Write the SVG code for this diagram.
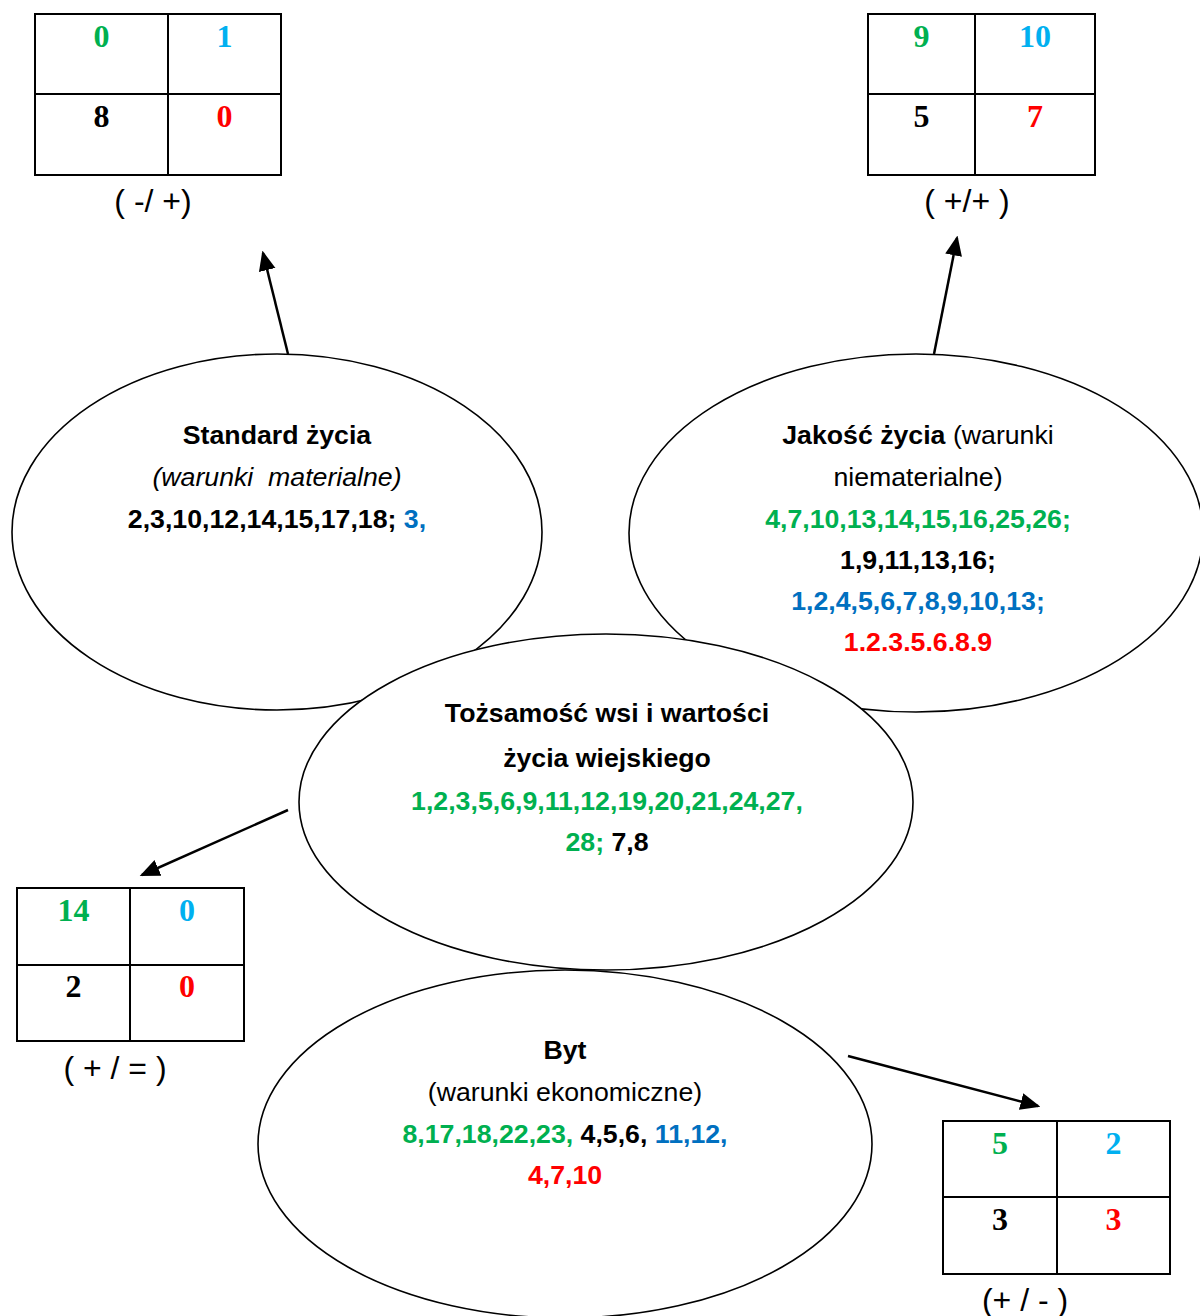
<svg xmlns="http://www.w3.org/2000/svg" width="1200" height="1316" viewBox="0 0 1200 1316">
<style>
.bg{fill:#fff}
.ell{fill:#fff;stroke:#000;stroke-width:1.6}
.tbl{fill:none;stroke:#000;stroke-width:2}
.num{font-family:"Liberation Serif",serif;font-weight:bold;font-size:32px;text-anchor:middle}
.lab{font-family:"Liberation Sans",sans-serif;font-size:32px;text-anchor:middle;fill:#000}
.t{font-family:"Liberation Sans",sans-serif;font-size:26.7px;text-anchor:middle;fill:#000}
.b{font-weight:bold}
.i{font-style:italic}
.g{fill:#00B050}
.lb{fill:#00B0F0}
.bl{fill:#0070C0}
.r{fill:#FF0000}
.k{fill:#000}
.conn{stroke:#000;stroke-width:2.5;fill:none;marker-end:url(#ah)}
</style>
<defs>
<marker id="ah" markerWidth="8" markerHeight="8" refX="7" refY="4" orient="auto" markerUnits="strokeWidth">
<path d="M0,0.6 L8,4 L0,7.4 z" fill="#000"/>
</marker>
</defs>
<rect class="bg" x="0" y="0" width="1200" height="1316"/>

<g id="node-standard">
<ellipse class="ell" cx="277" cy="532" rx="265" ry="178"/>
<text class="t b" x="277" y="444">Standard życia</text>
<text class="t i" x="277" y="486" xml:space="preserve">(warunki  materialne)</text>
<text class="t b" x="277" y="528">2,3,10,12,14,15,17,18; <tspan class="bl">3,</tspan></text>
</g>

<g id="node-jakosc">
<ellipse class="ell" cx="916" cy="533" rx="287" ry="179"/>
<text class="t" x="918" y="444"><tspan class="b">Jakość życia</tspan> (warunki</text>
<text class="t" x="918" y="486">niematerialne)</text>
<text class="t b g" x="918" y="528">4,7,10,13,14,15,16,25,26;</text>
<text class="t b" x="918" y="569">1,9,11,13,16;</text>
<text class="t b bl" x="918" y="610">1,2,4,5,6,7,8,9,10,13;</text>
<text class="t b r" x="918" y="651">1.2.3.5.6.8.9</text>
</g>

<g id="node-tozsamosc">
<ellipse class="ell" cx="606" cy="802" rx="307" ry="168"/>
<text class="t b" x="607" y="722">Tożsamość wsi i wartości</text>
<text class="t b" x="607" y="767">życia wiejskiego</text>
<text class="t b g" x="607" y="810">1,2,3,5,6,9,11,12,19,20,21,24,27,</text>
<text class="t b" x="607" y="851"><tspan class="g">28;</tspan> 7,8</text>
</g>

<g id="node-byt">
<ellipse class="ell" cx="565" cy="1144" rx="307" ry="174"/>
<text class="t b" x="565" y="1059">Byt</text>
<text class="t" x="565" y="1101">(warunki ekonomiczne)</text>
<text class="t b" x="565" y="1143"><tspan class="g">8,17,18,22,23,</tspan> 4,5,6, <tspan class="bl">11,12,</tspan></text>
<text class="t b r" x="565" y="1184">4,7,10</text>
</g>

<g id="table-tl">
<rect class="tbl" x="35" y="14" width="246" height="161"/>
<line class="tbl" x1="168" y1="14" x2="168" y2="175"/>
<line class="tbl" x1="35" y1="94" x2="281" y2="94"/>
<text class="num g" x="101.5" y="47">0</text>
<text class="num lb" x="224.5" y="47">1</text>
<text class="num k" x="101.5" y="127">8</text>
<text class="num r" x="224.5" y="127">0</text>
<text class="lab" x="153" y="212">( -/ +)</text>
</g>

<g id="table-tr">
<rect class="tbl" x="868" y="14" width="227" height="161"/>
<line class="tbl" x1="975" y1="14" x2="975" y2="175"/>
<line class="tbl" x1="868" y1="94" x2="1095" y2="94"/>
<text class="num g" x="921.5" y="47">9</text>
<text class="num lb" x="1035" y="47">10</text>
<text class="num k" x="921.5" y="127">5</text>
<text class="num r" x="1035" y="127">7</text>
<text class="lab" x="967" y="212">( +/+ )</text>
</g>

<g id="table-bl">
<rect class="tbl" x="17" y="888" width="227" height="153"/>
<line class="tbl" x1="130" y1="888" x2="130" y2="1041"/>
<line class="tbl" x1="17" y1="965" x2="244" y2="965"/>
<text class="num g" x="73.5" y="921">14</text>
<text class="num lb" x="187" y="921">0</text>
<text class="num k" x="73.5" y="997">2</text>
<text class="num r" x="187" y="997">0</text>
<text class="lab" x="115" y="1079">( + / = )</text>
</g>

<g id="table-br">
<rect class="tbl" x="943" y="1121" width="227" height="153"/>
<line class="tbl" x1="1057" y1="1121" x2="1057" y2="1274"/>
<line class="tbl" x1="943" y1="1197" x2="1170" y2="1197"/>
<text class="num g" x="1000" y="1154">5</text>
<text class="num lb" x="1113.5" y="1154">2</text>
<text class="num k" x="1000" y="1230">3</text>
<text class="num r" x="1113.5" y="1230">3</text>
<text class="lab" x="1025" y="1311">(+ / - )</text>
</g>

<g id="connectors">
<line class="conn" x1="288" y1="354" x2="263" y2="253"/>
<line class="conn" x1="934" y1="354" x2="957" y2="238"/>
<line class="conn" x1="288" y1="810" x2="142" y2="875"/>
<line class="conn" x1="848" y1="1056" x2="1038" y2="1106"/>
</g>
</svg>
